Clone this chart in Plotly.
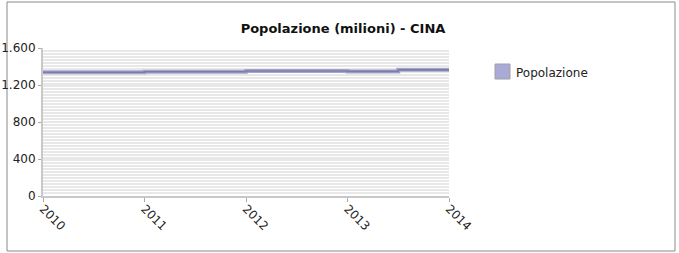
import plotly.graph_objects as go

# Data
step_start = [2010, 2011, 2012, 2013, 2013.5, 2014]
popolazione = [1338, 1344, 1351, 1347, 1364, 1364]
y_ticks = [0, 400, 800, 1200, 1600]
y_tick_labels = ["0", "400", "800", "1.200", "1.600"]
x_ticks = [2010, 2011, 2012, 2013, 2014]
x_tick_labels = ["2010", "2011", "2012", "2013", "2014"]

W, H = 679, 253
L, R, T, B = 43, 449, 48, 196  # plot area in px

fig = go.Figure()
fig.add_trace(go.Scatter(x=step_start, y=popolazione, mode="lines",
                         line=dict(shape="hv", width=4, color="#a4a4d2"),
                         showlegend=False, hoverinfo="skip"))
fig.add_trace(go.Scatter(x=step_start, y=popolazione, mode="lines",
                         line=dict(shape="hv", width=1.6, color="#7c7ca4"),
                         name="Popolazione", showlegend=False))

def px_x(px):
    return (px - L) / (R - L)

def px_y(py):
    return (B - py) / (B - T)

shapes = [
    dict(type="rect", xref="paper", yref="paper",
         x0=px_x(7), x1=px_x(675), y0=px_y(251), y1=px_y(2),
         line=dict(color="#8a8a8a", width=1), fillcolor="rgba(0,0,0,0)", layer="below"),
    dict(type="rect", xref="paper", yref="paper",
         x0=px_x(495), x1=px_x(510), y0=px_y(79), y1=px_y(64),
         line=dict(color="#a0a0a0", width=1), fillcolor="#aaaad6"),
]

fig.update_layout(
    width=W, height=H,
    margin=dict(l=L, r=W - R, t=T, b=H - B, pad=0, autoexpand=False),
    paper_bgcolor="white", plot_bgcolor="white",
    separators=",.",
    font=dict(family="DejaVu Sans", color="#333333", size=11),
    title=dict(text="<b>Popolazione (milioni) - CINA</b>", x=343 / W, xanchor="center",
               y=1 - 28 / H, yanchor="middle",
               font=dict(family="DejaVu Sans", size=13, color="#111111")),
    xaxis=dict(range=[2010, 2014], tickvals=x_ticks, ticktext=x_tick_labels,
               tickangle=45, ticks="outside", ticklen=4, tickcolor="#aaaaaa",
               automargin=False, ticklabelstandoff=-5,
               showgrid=False, zeroline=False, showline=True, linecolor="#c8c8c8",
               linewidth=2, tickfont=dict(size=12, color="#222222")),
    yaxis=dict(range=[0, 1600], tickvals=y_ticks, ticktext=y_tick_labels,
               ticks="outside", ticklen=3, tickcolor="#aaaaaa", automargin=False,
               showgrid=True, gridcolor="#e8e8e8", gridwidth=1.5,
               minor=dict(dtick=32, showgrid=True, gridcolor="#e8e8e8", gridwidth=1.5),
               zeroline=False, showline=True, linecolor="#c8c8c8", linewidth=2,
               tickfont=dict(size=12, color="#222222")),
    shapes=shapes,
    annotations=[dict(text="Popolazione", xref="paper", yref="paper",
                      x=px_x(514), y=px_y(73), xanchor="left", yanchor="middle",
                      showarrow=False, font=dict(size=12, color="#222222"))],
)

fig.write_html("out.html", config={"displayModeBar": False},
               post_script="document.body.style.margin='0';document.body.style.overflow='hidden';")
